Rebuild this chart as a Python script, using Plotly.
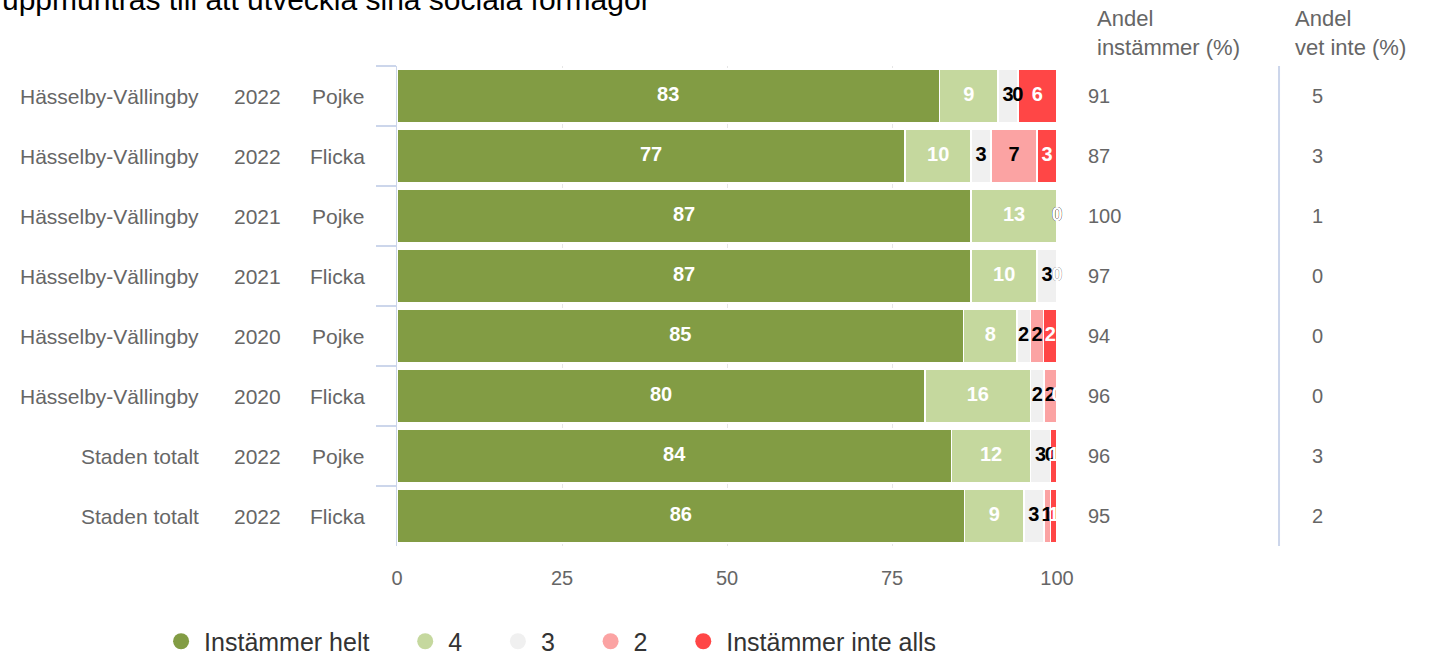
import numpy as np
import plotly.graph_objects as go

# ---------------- data ----------------
regions = ["Hässelby-Vällingby"] * 6 + ["Staden totalt"] * 2
years = ["2022", "2022", "2021", "2021", "2020", "2020", "2022", "2022"]
genders = ["Pojke", "Flicka", "Pojke", "Flicka", "Pojke", "Flicka", "Pojke", "Flicka"]

series_names = ["Instämmer helt", "4", "3", "2", "Instämmer inte alls"]
instammer_helt = [83, 77, 87, 87, 85, 80, 84, 86]
svar_4 = [9, 10, 13, 10, 8, 16, 12, 9]
svar_3 = [3, 3, 0, 3, 2, 2, 3, 3]
svar_2 = [0, 7, 0, 0, 2, 2, 0, 1]
instammer_inte_alls = [6, 3, 0, 0, 2, 0, 1, 1]

andel_instammer = [91, 87, 100, 97, 94, 96, 96, 95]
andel_vet_inte = [5, 3, 1, 0, 0, 0, 3, 2]

title_text = "uppmuntras till att utveckla sina sociala förmågor"
header_instammer = "Andel<br>instämmer (%)"
header_vet_inte = "Andel<br>vet inte (%)"
x_ticks = [0, 25, 50, 75, 100]

# ---------------- style ----------------
colors = ["#829c44", "#c5d89e", "#f0f0f0", "#fba3a3", "#ff4646"]
label_colors = ["white", "white", "black", "black", "white"]
FONT = "Liberation Sans, Arial, sans-serif"
GRAY = "#666666"

series = [instammer_helt, svar_4, svar_3, svar_2, instammer_inte_alls]
cats = [f"{r} {y} {g}" for r, y, g in zip(regions, years, genders)]

vals = np.array(series, dtype=float)          # shape (5, 8)
totals = vals.sum(axis=0)
widths = vals / totals * 100.0                # stacked bars normalised to 100 %
cum = np.cumsum(widths, axis=0)
mids = cum - widths / 2.0

fig = go.Figure()

for i, name in enumerate(series_names):
    fig.add_trace(go.Bar(
        y=cats, x=widths[i], orientation="h", name=name,
        marker=dict(color=colors[i], line=dict(color="white", width=1.5)),
        showlegend=False, hoverinfo="skip",
    ))

for i, name in enumerate(series_names):
    fig.add_trace(go.Scatter(
        y=cats, x=mids[i], mode="text",
        text=[str(v) for v in series[i]],
        textfont=dict(family=FONT, size=20, color=label_colors[i], weight="bold"),
        showlegend=False, hoverinfo="skip", cliponaxis=False,
    ))

# legend entries (circles)
for i, name in enumerate(series_names):
    fig.add_trace(go.Scatter(
        x=[None], y=[None], mode="markers", name=name + "\u00a0" * 4,
        marker=dict(symbol="circle", size=16, color=colors[i]),
        showlegend=True,
    ))

LBL = 21
annotations = []
# left label columns
for c, r, y, g in zip(cats, regions, years, genders):
    annotations.append(dict(xref="paper", yref="y", x=-0.297, y=c, text=r,
                            xanchor="right", showarrow=False,
                            font=dict(family=FONT, size=LBL, color=GRAY)))
    annotations.append(dict(xref="paper", yref="y", x=-0.2121, y=c, text=y,
                            xanchor="center", showarrow=False,
                            font=dict(family=FONT, size=LBL, color=GRAY)))
    annotations.append(dict(xref="paper", yref="y", x=-0.0455, y=c, text=g,
                            xanchor="right", showarrow=False,
                            font=dict(family=FONT, size=LBL, color=GRAY)))
# right value columns
for c, a, v in zip(cats, andel_instammer, andel_vet_inte):
    annotations.append(dict(xref="paper", yref="y", x=1.044, y=c, text=str(a),
                            xanchor="left", showarrow=False,
                            font=dict(family=FONT, size=20, color=GRAY)))
    annotations.append(dict(xref="paper", yref="y", x=1.3833, y=c, text=str(v),
                            xanchor="left", showarrow=False,
                            font=dict(family=FONT, size=20, color=GRAY)))
# headers
annotations.append(dict(xref="paper", yref="paper", x=1.0576, y=1.129, text=header_instammer,
                        xanchor="left", yanchor="top", align="left", showarrow=False,
                        font=dict(family=FONT, size=22, color=GRAY)))
annotations.append(dict(xref="paper", yref="paper", x=1.3576, y=1.129, text=header_vet_inte,
                        xanchor="left", yanchor="top", align="left", showarrow=False,
                        font=dict(family=FONT, size=22, color=GRAY)))
# title (partly outside the visible area, as in the reference)
annotations.append(dict(xref="paper", yref="paper", x=-0.6015, y=1.1, text=title_text,
                        xanchor="left", yanchor="bottom", showarrow=False,
                        font=dict(family=FONT, size=30, color="black")))

shapes = [dict(type="line", xref="paper", yref="paper", x0=1.3364, x1=1.3364, y0=0, y1=1,
               line=dict(color="#ccd6eb", width=2))]

fig.update_layout(
    width=1429, height=656,
    margin=dict(l=397, r=372, t=66, b=110, autoexpand=False),
    paper_bgcolor="white", plot_bgcolor="white",
    barmode="stack", bargap=0.1,
    font=dict(family=FONT, color=GRAY),
    annotations=annotations, shapes=shapes,
    legend=dict(orientation="h", x=-0.362, xanchor="left", y=-0.151, yanchor="top",
                traceorder="normal", itemwidth=36,
                font=dict(family=FONT, size=25, color="#333333"),
                itemclick=False, itemdoubleclick=False),
    xaxis=dict(range=[0, 100], tickvals=x_ticks, ticktext=[str(t) for t in x_ticks],
               showgrid=True, gridcolor="#e6e6e6", gridwidth=1, zeroline=False,
               showline=False, ticks="", ticklabelstandoff=18,
               tickfont=dict(family=FONT, size=20, color=GRAY), fixedrange=True),
    yaxis=dict(categoryorder="array", categoryarray=cats, autorange="reversed",
               showticklabels=False, ticks="outside", tickson="boundaries",
               ticklen=20, tickcolor="#ccd6eb", tickwidth=2,
               showline=True, linecolor="#ccd6eb", linewidth=1,
               showgrid=False, zeroline=False, fixedrange=True),
)

fig.write_html("out.html", config={"displayModeBar": False},
               post_script="document.body.style.margin='0';document.body.style.overflow='hidden';")
